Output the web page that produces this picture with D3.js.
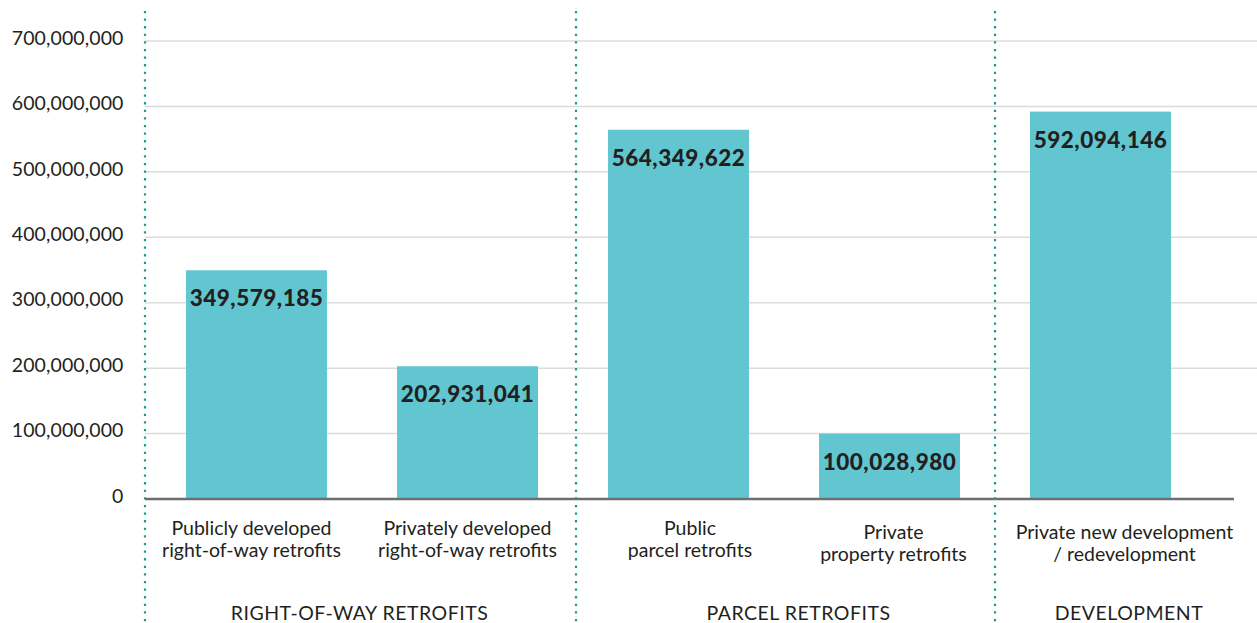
<!DOCTYPE html>
<html><head><meta charset="utf-8">
<script src="https://cdn.jsdelivr.net/npm/d3@7"></script>
<style>
html,body{margin:0;padding:0;background:#fff;}
svg{display:block;font-family:Lato,"Open Sans",sans-serif;}
</style></head>
<body>
<svg id="chart" width="1257" height="623"></svg>
<script>
const categories = [
  ["Publicly developed","right-of-way retrofits"],
  ["Privately developed","right-of-way retrofits"],
  ["Public","parcel retrofits"],
  ["Private","property retrofits"],
  ["Private new development","/ redevelopment"]
];
const values = [349579185, 202931041, 564349622, 100028980, 592094146];
const groups = ["RIGHT-OF-WAY RETROFITS","PARCEL RETROFITS","DEVELOPMENT"];
const groupStarts = [0, 2, 4]; // index of first category in each group
const yTicks = [0,100000000,200000000,300000000,400000000,500000000,600000000,700000000];

// layout nudges (styling only)
const catNudgeX = [-5, 0, 11.5, 4, 24];
const catNudgeY = [0, 0, 0, 4, 4];
const dividerNudge = [-6, 3, 0];
const groupNudge = [-1, 13, 3];

const W = 1257, H = 623;
const svg = d3.select("#chart");
const fmt = d3.format(",");
const ids = values.map((d,i)=>i);

const y = d3.scaleLinear().domain([0,700000000]).range([499, 41]);
const x = d3.scaleBand().domain(ids).range([151, 1206]).paddingInner(0.332).paddingOuter(0.166);

const plotLeft = 145, gridRight = 1257, baseRight = 1234;

// gridlines
svg.append("g").selectAll("line").data(yTicks.filter(d=>d>0)).join("line")
  .attr("x1", plotLeft).attr("x2", gridRight)
  .attr("y1", d=>y(d)).attr("y2", d=>y(d))
  .attr("stroke","#dcdcdc").attr("stroke-width",1.5);

// y axis labels
const yAxis = d3.axisLeft(y).tickValues(yTicks).tickFormat(fmt).tickSize(0).tickPadding(0);
const ya = svg.append("g").attr("transform","translate(123.5,-3)").call(yAxis);
ya.select(".domain").remove();
ya.selectAll("text").attr("font-size",19.5).attr("fill","#231f20")
  .attr("font-family","Lato, 'Open Sans', sans-serif").attr("letter-spacing","0.1px");

// bars
svg.append("g").selectAll("rect").data(ids).join("rect")
  .attr("x", i=>x(i)).attr("width", x.bandwidth())
  .attr("y", i=>y(values[i])).attr("height", i=>y(0)-y(values[i]))
  .attr("fill","#62c6d1");

// baseline
svg.append("line").attr("x1",plotLeft).attr("x2",baseRight)
  .attr("y1",y(0)).attr("y2",y(0)).attr("stroke","#6d6e71").attr("stroke-width",2.5);

// value labels
svg.append("g").selectAll("text").data(ids).join("text")
  .attr("x", i=>x(i)+x.bandwidth()/2).attr("y", i=>y(values[i])+36)
  .attr("text-anchor","middle").attr("font-weight",900).attr("font-size",22.5)
  .attr("letter-spacing","0.5px")
  .attr("fill","#231f20").text(i=>fmt(values[i]));

// category labels
const catG = svg.append("g");
ids.forEach(i=>{
  const cx = x(i)+x.bandwidth()/2 + catNudgeX[i];
  const t = catG.append("text").attr("x", cx)
    .attr("y", 535 + catNudgeY[i])
    .attr("text-anchor","middle").attr("font-size",19.5).attr("fill","#231f20");
  categories[i].forEach((line,k)=>{
    t.append("tspan").attr("x", cx).attr("dy", k===0?0:21.5).text(line);
  });
});

// dividers: midway between neighbouring bars (first one left of the plot)
const gap = x.step()-x.bandwidth();
const dividerX = groupStarts.map((s,i) => x(s) - gap/2 + dividerNudge[i]);
svg.append("g").selectAll("line").data(dividerX).join("line")
  .attr("x1",d=>d).attr("x2",d=>d).attr("y1",12).attr("y2",H)
  .attr("stroke","#1a9b8e").attr("stroke-width",2.2)
  .attr("stroke-dasharray","0.1 7.5").attr("stroke-linecap","square");

// group labels
const groupCenters = dividerX.map((d,i)=>{
  const next = i<dividerX.length-1 ? dividerX[i+1] : W;
  return (d+next)/2 + groupNudge[i];
});
svg.append("g").selectAll("text").data(groups).join("text")
  .attr("x",(d,i)=>groupCenters[i])
  .attr("y",620).attr("text-anchor","middle").attr("font-size",19.5)
  .attr("letter-spacing","0.5px")
  .attr("fill","#231f20").text(d=>d);
</script>
</body></html>
